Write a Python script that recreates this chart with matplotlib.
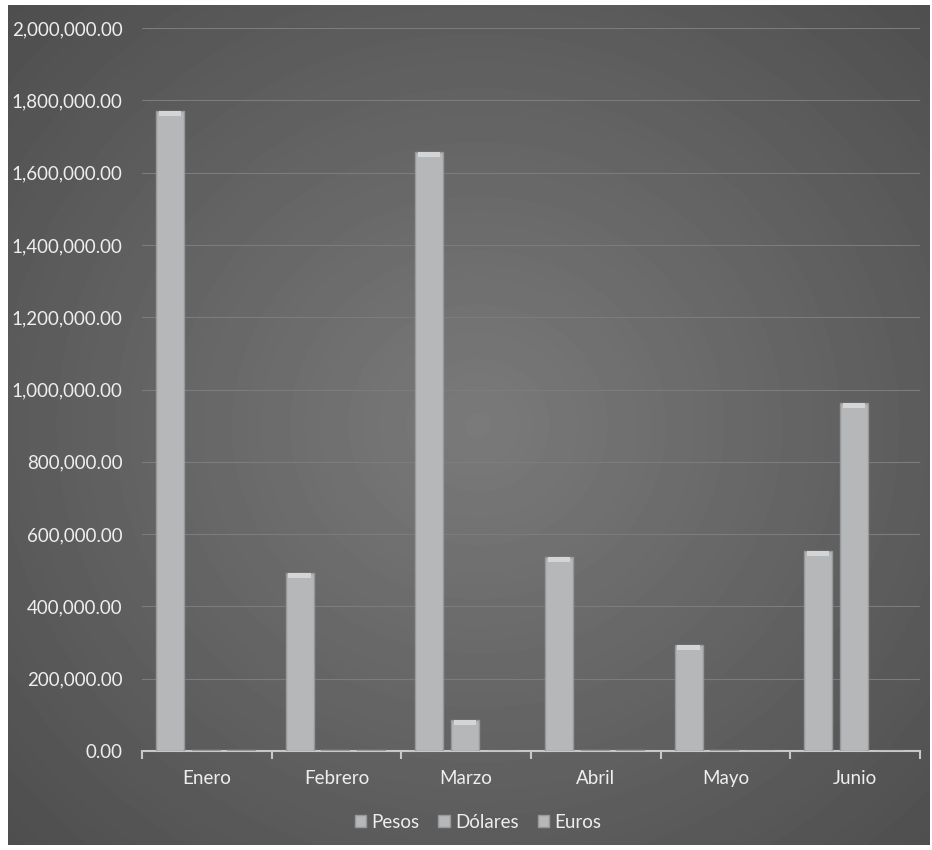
import numpy as np
import matplotlib.pyplot as plt
from matplotlib.ticker import FuncFormatter

meses = ["Enero", "Febrero", "Marzo", "Abril", "Mayo", "Junio"]
series = ["Pesos", "Dólares", "Euros"]
pesos   = [1770000, 492000, 1657000, 537000, 293000, 553000]
dolares = [3500, 3500, 86000, 3500, 3500, 963000]
euros   = [3500, 3500, 0, 3500, 0, 0]

plt.rcParams['font.family'] = ['Lato', 'DejaVu Sans']

fig = plt.figure(figsize=(9.32, 8.5), dpi=100)
fig.patch.set_facecolor("white")

# fondo con degradado radial
bg = fig.add_axes([8 / 932, 5 / 850, 922 / 932, 840 / 850], zorder=-1)
yy, xx = np.mgrid[0:840, 0:922]
r = np.sqrt(((xx - 470) / 560) ** 2 + ((yy - 420) / 520) ** 2)
img = np.clip(0.48 - 0.15 * r, 0.30, 0.48)
bg.imshow(img, cmap="gray", vmin=0, vmax=1, aspect="auto", interpolation="bilinear")
bg.axis("off")

ax = fig.add_axes([142 / 932, 1 - 751 / 850, 778 / 932, 723 / 850])
ax.patch.set_alpha(0)

x = np.arange(len(meses))
w = 0.216
offs = [-0.285, -0.01, 0.265]
cara = "#b6b7b9"
cap = 14000
for vals, off, name in zip([pesos, dolares, euros], offs, series):
    ax.bar(x + off, vals, w, color=cara, edgecolor="#97989a", linewidth=1.0,
           label=name, zorder=3)
    # brillo superior (bisel)
    altos = [cap if v > cap * 2 else 0 for v in vals]
    ax.bar(x + off, altos, w * 0.8, bottom=[v - cap for v in vals],
           color="#d4d5d7", linewidth=0, zorder=4)

ax.set_xlim(-0.5, 5.5)
ax.set_ylim(0, 2000000)
ax.set_yticks(np.arange(0, 2000001, 200000))
ax.yaxis.set_major_formatter(FuncFormatter(lambda v, p: f"{v:,.2f}"))
ax.grid(axis="y", color="#7c7c7e", linewidth=0.8, zorder=0)
ax.set_axisbelow(True)

for s in ["top", "right", "left"]:
    ax.spines[s].set_visible(False)
ax.spines["bottom"].set_color("#c8c8c8")
ax.spines["bottom"].set_linewidth(1.5)

ax.set_xticks(x)
ax.set_xticklabels(meses)
ax.set_xticks(np.arange(-0.5, 6, 1), minor=True)
ax.tick_params(axis="x", which="major", length=0, pad=14, labelsize=13.5, labelcolor="#eeeeee")
ax.tick_params(axis="x", which="minor", length=6, width=1.5, color="#c8c8c8")
ax.tick_params(axis="y", length=0, pad=14, labelsize=13.5, labelcolor="#eeeeee")

leg = fig.legend(loc="center", bbox_to_anchor=(478 / 932, 1 - 822 / 850), ncol=3,
                 frameon=False, fontsize=13.5, labelcolor="#eeeeee",
                 handlelength=0.6, handleheight=0.6, handletextpad=0.3,
                 columnspacing=1.0)

fig.savefig("out.png", dpi=100)
